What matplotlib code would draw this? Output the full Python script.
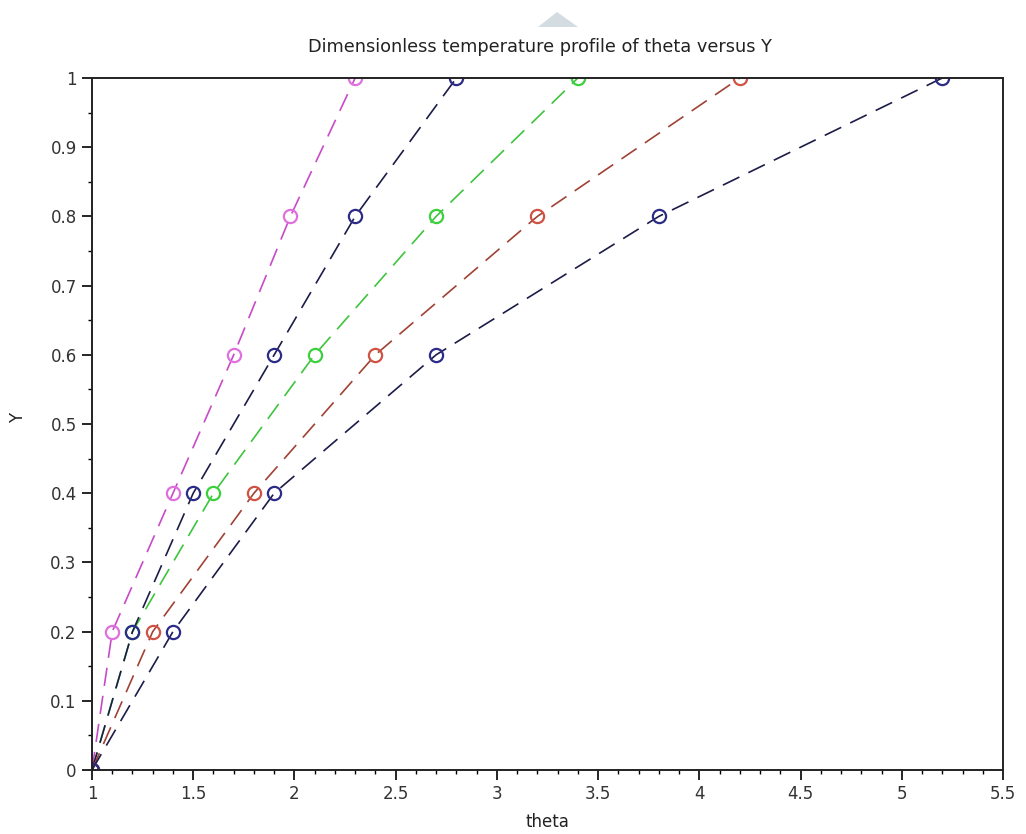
import matplotlib
matplotlib.use("Agg")
import matplotlib.pyplot as plt
from matplotlib.patches import Polygon
from matplotlib.ticker import MultipleLocator, FuncFormatter

# Y levels shared by all curves
Y = [0.0, 0.2, 0.4, 0.6, 0.8, 1.0]

# theta values, one list per curve
theta_green = [1.0, 1.2, 1.6, 2.1, 2.7, 3.4]
theta_magenta = [1.0, 1.1, 1.4, 1.7, 1.98, 2.3]
theta_navy1 = [1.0, 1.2, 1.5, 1.9, 2.3, 2.8]
theta_red = [1.0, 1.3, 1.8, 2.4, 3.2, 4.2]
theta_navy2 = [1.0, 1.4, 1.9, 2.7, 3.8, 5.2]

# (values, dash colour, marker colour) in drawing order
series = [
    (theta_green, "#3ec43e", "#3cd03c"),
    (theta_magenta, "#c84ac8", "#e070e0"),
    (theta_navy1, "#1c1c48", "#2c2c88"),
    (theta_red, "#a04234", "#d05244"),
    (theta_navy2, "#1c1c48", "#2c2c88"),
]

fig = plt.figure(figsize=(10.26, 8.34), dpi=100)
ax = fig.add_axes([92 / 1026, 64 / 834, 911 / 1026, 692 / 834])

for th, lc, mc in series:
    ax.plot(th, Y, linestyle=(0, (11, 6)), color=lc, linewidth=1.2, clip_on=True)
    ax.plot(th, Y, linestyle="none", marker="o", markersize=9.5,
            markerfacecolor="none", markeredgecolor=mc, markeredgewidth=1.6,
            clip_on=True)

ax.set_xlim(1, 5.5)
ax.set_ylim(0, 1)
ax.xaxis.set_major_locator(MultipleLocator(0.5))
ax.xaxis.set_minor_locator(MultipleLocator(0.1))
ax.yaxis.set_major_locator(MultipleLocator(0.1))
ax.yaxis.set_minor_locator(MultipleLocator(0.05))
ax.xaxis.set_major_formatter(FuncFormatter(lambda v, p: f"{v:g}"))
ax.yaxis.set_major_formatter(FuncFormatter(lambda v, p: f"{v:g}"))
ax.tick_params(which="major", direction="out", length=7, width=1.2,
               labelsize=12, top=False, right=False, pad=4,
               labelcolor="#333333")
ax.tick_params(which="minor", direction="out", length=3, width=1.0,
               top=False, right=False)
for s in ax.spines.values():
    s.set_linewidth(1.4)
    s.set_color("#222222")

fig.text(540 / 1026, 1 - 47 / 834,
         "Dimensionless temperature profile of theta versus Y",
         ha="center", va="center", fontsize=12.8, color="#222222")
fig.text(547 / 1026, 1 - 822 / 834, "theta", ha="center", va="center",
         fontsize=12, color="#222222")
fig.text(18 / 1026, 1 - 418 / 834, "Y", ha="center", va="center",
         fontsize=12, rotation=90, color="#222222")

# light grey marker at top of the window
tri = Polygon([[538 / 1026, 1 - 27 / 834], [578 / 1026, 1 - 27 / 834],
               [557 / 1026, 1 - 12 / 834]], closed=True,
              transform=fig.transFigure, facecolor="#d3dce1", edgecolor="none")
fig.patches.append(tri)

fig.savefig("out.png", dpi=100)
